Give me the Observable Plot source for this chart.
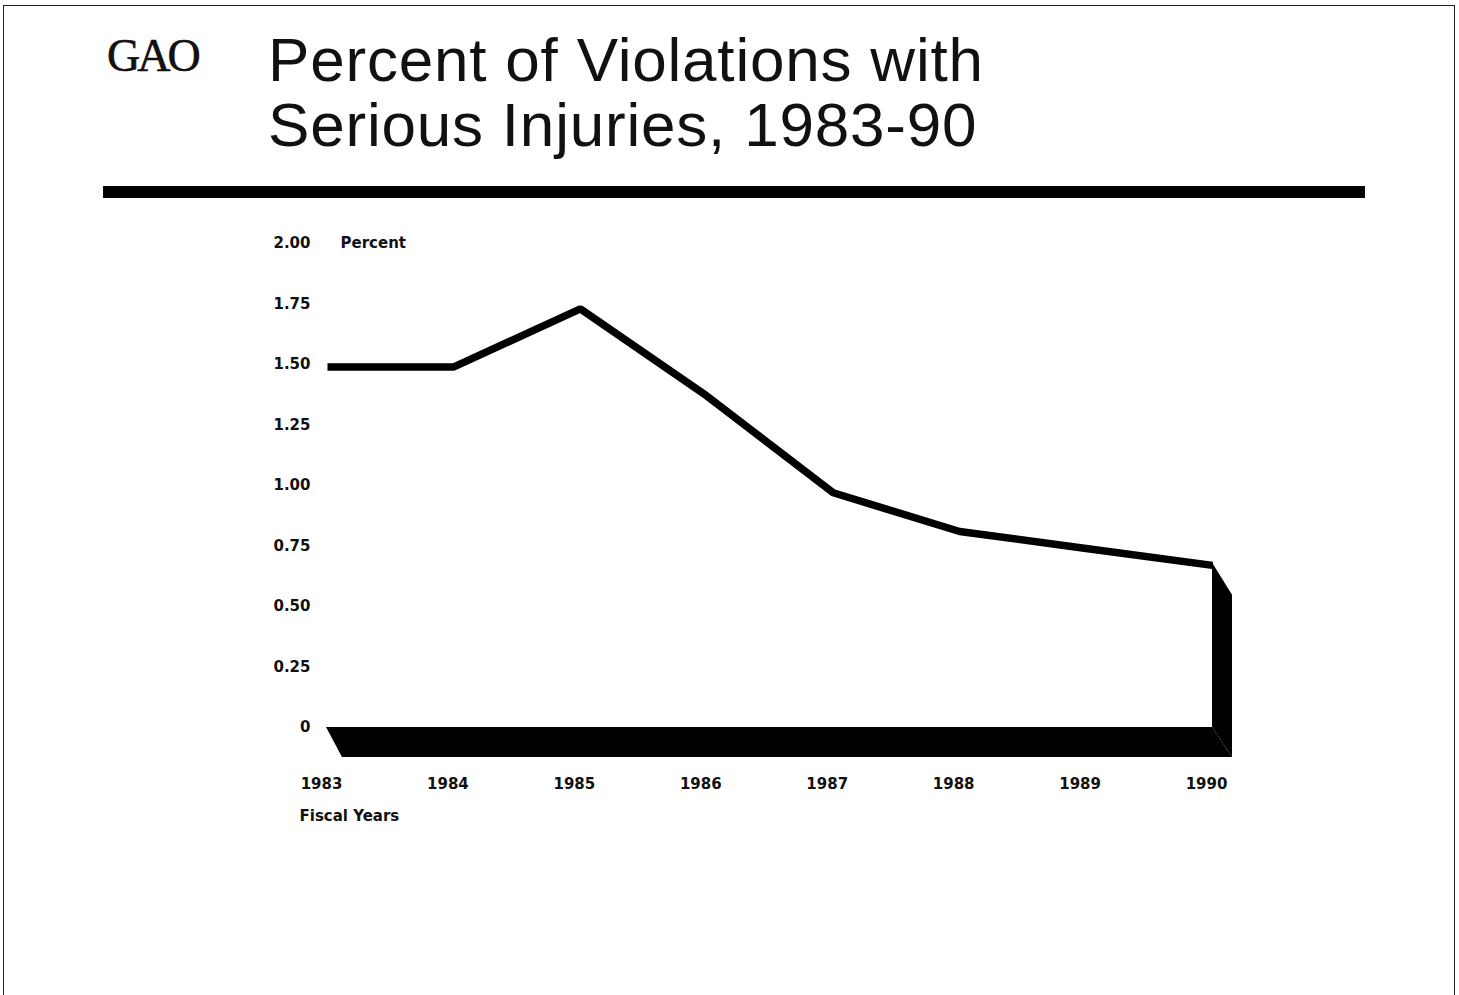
<!DOCTYPE html>
<html>
<head>
<meta charset="utf-8">
<script src="https://cdn.jsdelivr.net/npm/d3@7"></script>
<script src="https://cdn.jsdelivr.net/npm/@observablehq/plot@0.6"></script>
<style>
  html, body { margin: 0; padding: 0; background: #fff; }
  #page { position: relative; width: 1459px; height: 995px; overflow: hidden; background: #fff; }
  #frame { position: absolute; left: 3px; top: 5px; width: 1452px; height: 1000px; border: 1.5px solid #222; border-bottom: none; box-sizing: border-box; }
  #gao { position: absolute; left: 107px; top: 29px; font-family: "Liberation Serif", "DejaVu Serif", serif; font-size: 46px; letter-spacing: -3px; color: #111; -webkit-text-stroke: 0.6px #111; }
  #title { position: absolute; left: 268px; top: 27px; font-family: "Liberation Sans", Arial, sans-serif; font-size: 62px; letter-spacing: 0.8px; line-height: 65px; color: #111; }
  #rule { position: absolute; left: 103px; top: 186px; width: 1262px; height: 12px; background: #000; }
  #chart { position: absolute; left: 0; top: 200px; }
</style>
</head>
<body>
<div id="page">
  <div id="frame"></div>
  <div id="gao">GAO</div>
  <div id="title">Percent of Violations with<br>Serious Injuries, 1983-90</div>
  <div id="rule"></div>
  <div id="chart"></div>
</div>
<script>
const years = [1983, 1984, 1985, 1986, 1987, 1988, 1989, 1990];
const percents = [1.49, 1.49, 1.73, 1.37, 0.97, 0.81, 0.74, 0.67];
const yTicks = [0, 0.25, 0.5, 0.75, 1.0, 1.25, 1.5, 1.75, 2.0];
const yTickLabels = ["0", "0.25", "0.50", "0.75", "1.00", "1.25", "1.50", "1.75", "2.00"];
const yLabel = "Percent";
const xLabel = "Fiscal Years";

const W = 1459, H = 700;
const mL = 327, mR = 247, mT = 43, mB = 173;
const font = "'DejaVu Sans', 'Liberation Sans', Arial, sans-serif";
const fs = 15;

const data = years.map((year, i) => ({ year, value: percents[i] }));

// Standalone scales identical to the chart's, used to size the 3-D shadow depth.
const xs = Plot.scale({ x: { domain: [years[0], years[years.length - 1]], range: [mL, W - mR] } });
const ys = Plot.scale({ y: { domain: [0, 2], range: [H - mB, mT] } });
const depthX = xs.invert(mL + 20) - years[0];
const depthY = ys.invert(H - mB) - ys.invert(H - mB + 30);

const first = years[0], last = years[years.length - 1], lastVal = percents[percents.length - 1];
// floor of the extrusion (parallelogram under the zero line)
const floor = [
  { y: 0, x1: first - depthX * 0.05, x2: last },
  { y: -depthY, x1: first + depthX * 0.75, x2: last + depthX }
];
// side wall at the last year
const wall = [
  { x: last, y1: lastVal + 0.01, y2: 0 },
  { x: last + depthX, y1: lastVal - depthY, y2: -depthY }
];

const chart = Plot.plot({
  width: W, height: H,
  marginLeft: mL, marginRight: mR, marginTop: mT, marginBottom: mB,
  style: { fontFamily: font, fontSize: fs + "px", fontWeight: "bold", color: "#111", background: "transparent", overflow: "visible" },
  x: { domain: [first, last] },
  y: { domain: [0, 2] },
  marks: [
    Plot.areaX(floor, { y: "y", x1: "x1", x2: "x2", fill: "#000", curve: "linear" }),
    Plot.areaY(wall, { x: "x", y1: "y1", y2: "y2", fill: "#000", curve: "linear" }),
    Plot.line(data, { x: "year", y: "value", stroke: "#000", strokeWidth: 7.5, strokeLinejoin: "miter", strokeLinecap: "butt" }),
    Plot.axisY(yTicks, { tickSize: 0, tickPadding: 17, tickFormat: (d, i) => yTickLabels[i], label: null, fontSize: fs, fontWeight: "bold" }),
    Plot.axisX(years, { tickSize: 0, tickPadding: 51, tickFormat: d => String(d), label: null, dx: -6, fontSize: fs, fontWeight: "bold" }),
    Plot.text([yLabel], { frameAnchor: "top-left", dx: 13, textAnchor: "start", lineAnchor: "middle", fontSize: fs, fontWeight: "bold", letterSpacing: "0.3px" }),
    Plot.text([xLabel], { frameAnchor: "bottom-left", dx: -28, dy: 89, textAnchor: "start", lineAnchor: "middle", fontSize: fs, fontWeight: "bold", letterSpacing: "0.8px" })
  ]
});
document.getElementById("chart").appendChild(chart);
</script>
</body>
</html>
